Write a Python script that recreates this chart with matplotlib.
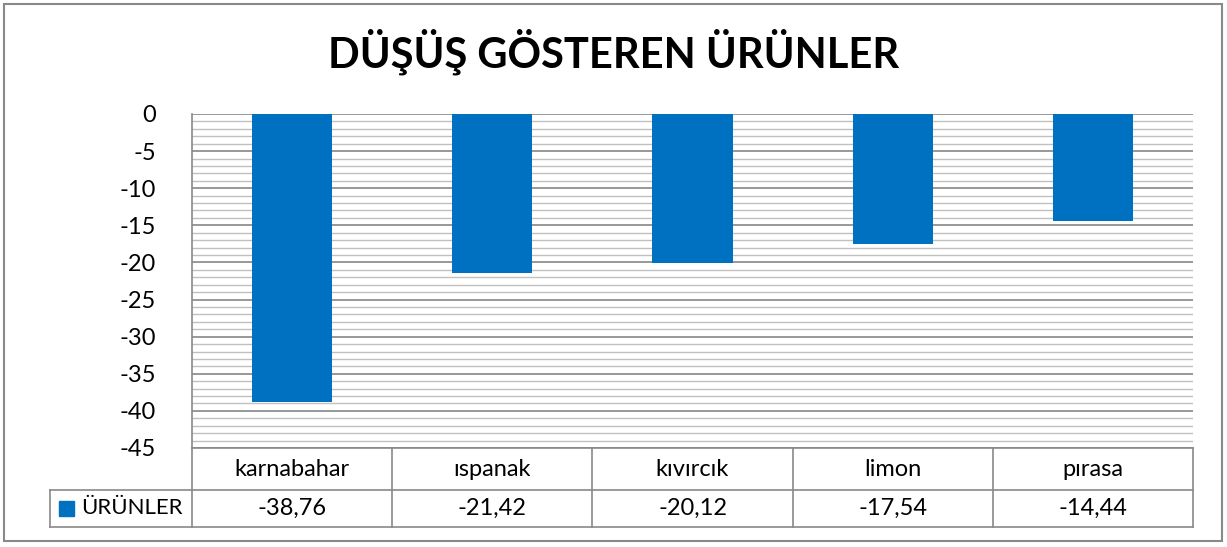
import numpy as np
import matplotlib
matplotlib.use("Agg")
import matplotlib.pyplot as plt
from matplotlib.patches import Rectangle

categories = ["karnabahar", "ıspanak", "kıvırcık", "limon", "pırasa"]
values = [-38.76, -21.42, -20.12, -17.54, -14.44]
value_labels = ["-38,76", "-21,42", "-20,12", "-17,54", "-14,44"]
series_name = "ÜRÜNLER"
title = "DÜŞÜŞ GÖSTEREN ÜRÜNLER"

plt.rcParams["font.family"] = ["Lato", "DejaVu Sans"]
plt.rcParams["axes.unicode_minus"] = False

W, H = 1227, 547
fig = plt.figure(figsize=(W / 100, H / 100), dpi=100)

# plot area in pixels
left, right, top, bottom = 192, 1193, 114, 448
ax = fig.add_axes([left / W, 1 - bottom / H, (right - left) / W, (bottom - top) / H])

bar_color = "#0070c0"
grid_major = "#868686"
grid_minor = "#c0c0c0"
line_col = "#898989"
fs = 17

x = np.arange(len(categories))
ax.bar(x, values, width=0.4, color=bar_color, zorder=3)
ax.set_xlim(-0.5, len(categories) - 0.5)
ax.set_ylim(-45, 0)
ax.set_yticks(np.arange(-45, 1, 5))
ax.set_yticks(np.arange(-45, 1, 1), minor=True)
ax.yaxis.grid(True, which="minor", color=grid_minor, lw=1.0, zorder=1)
ax.yaxis.grid(True, which="major", color=grid_major, lw=1.2, zorder=2)
ax.set_xticks([])
ax.tick_params(axis="y", which="both", length=0, labelsize=fs, pad=26)
for s in ["top", "right", "bottom"]:
    ax.spines[s].set_visible(False)
ax.spines["left"].set_color(line_col)
ax.spines["left"].set_linewidth(1.2)

# data table under the plot
row1 = (490 - 448) / (bottom - top)
row2 = (527 - 448) / (bottom - top)
cat_px = (right - left) / len(categories)
leg_x = -0.5 - (left - 50) / cat_px
tr = ax.get_xaxis_transform()
kw = dict(transform=tr, color=line_col, lw=1.2, clip_on=False)
ax.plot([-0.5, len(categories) - 0.5], [0, 0], **kw)
ax.plot([leg_x, len(categories) - 0.5], [-row1, -row1], **kw)
ax.plot([leg_x, len(categories) - 0.5], [-row2, -row2], **kw)
ax.plot([leg_x, leg_x], [-row1, -row2], **kw)
ax.plot([-0.5, -0.5], [0, -row2], **kw)
for i in range(len(categories)):
    ax.plot([i + 0.5, i + 0.5], [0, -row2], **kw)
    ax.text(i, -row1 / 2, categories[i], transform=tr, ha="center", va="center",
            fontsize=fs, color="#000000")
    ax.text(i, -(row1 + row2) / 2, value_labels[i], transform=tr, ha="center",
            va="center", fontsize=fs, color="#000000")

# legend key in the table
key_h = 15 / (bottom - top)
ax.add_patch(Rectangle((leg_x + 9 / cat_px, -(row1 + row2) / 2 - key_h / 2),
                       15 / cat_px, key_h, transform=tr, color=bar_color,
                       clip_on=False))
ax.text(leg_x + 31 / cat_px, -(row1 + row2) / 2, series_name, transform=tr,
        ha="left", va="center", fontsize=16, color="#000000")

fig.text(0.5, 1 - 52 / H, title, ha="center", va="center", fontsize=30,
         fontweight="bold", color="#000000")

# outer chart border
fig.patches.append(Rectangle((4 / W, 6 / H), (W - 9) / W, (H - 10) / H,
                             transform=fig.transFigure, fill=False,
                             edgecolor=line_col, lw=1.5))

fig.savefig("out.png", dpi=100)
